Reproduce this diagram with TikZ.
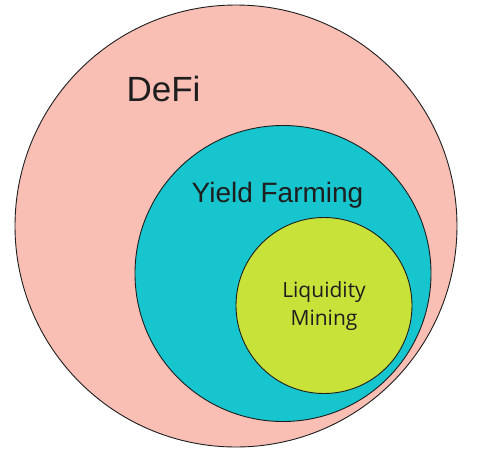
\documentclass[tikz,border=0pt]{standalone}
\usepackage{fontspec}
\setmainfont{Liberation Sans}
\newfontfamily\liqfont{Open Sans}
\usetikzlibrary{positioning}
\definecolor{defipink}{RGB}{249, 191, 181}
\definecolor{yieldteal}{RGB}{22, 197, 206}
\definecolor{liqlime}{RGB}{201, 226, 58}
\definecolor{ringline}{RGB}{30, 30, 30}

\begin{document}
\begin{tikzpicture}[
        x=1pt, y=-1pt,
        ring/.style={circle, draw=ringline, line width=0.9pt, inner sep=0pt},
        tag/.style={anchor=base, text=ringline, inner sep=0pt}
      ]
        \fill[white] (0,0) rectangle (480,456);
        \useasboundingbox (0,0) rectangle (480,456);
        \node[ring, fill=defipink,  minimum size=442pt] (defi)  at (236,226)   {};
        \node[ring, fill=yieldteal, minimum size=296pt] (yield) at (283,273.5) {};
        \node[ring, fill=liqlime,   minimum size=176pt] (liq)   at (324,305.5) {};
        \node[tag, font=\fontsize{35}{40}\selectfont] (defitext)  at (163.5,101) {DeFi};
        \node[tag, font=\fontsize{28}{32}\selectfont] (yieldtext) at (277.5,202) {Yield Farming};
        \node[tag, font=\liqfont\fontsize{21}{28}\selectfont, align=center]
              (liqtext) at (324,325) {Liquidity\\Mining};
      \end{tikzpicture}
\end{document}
